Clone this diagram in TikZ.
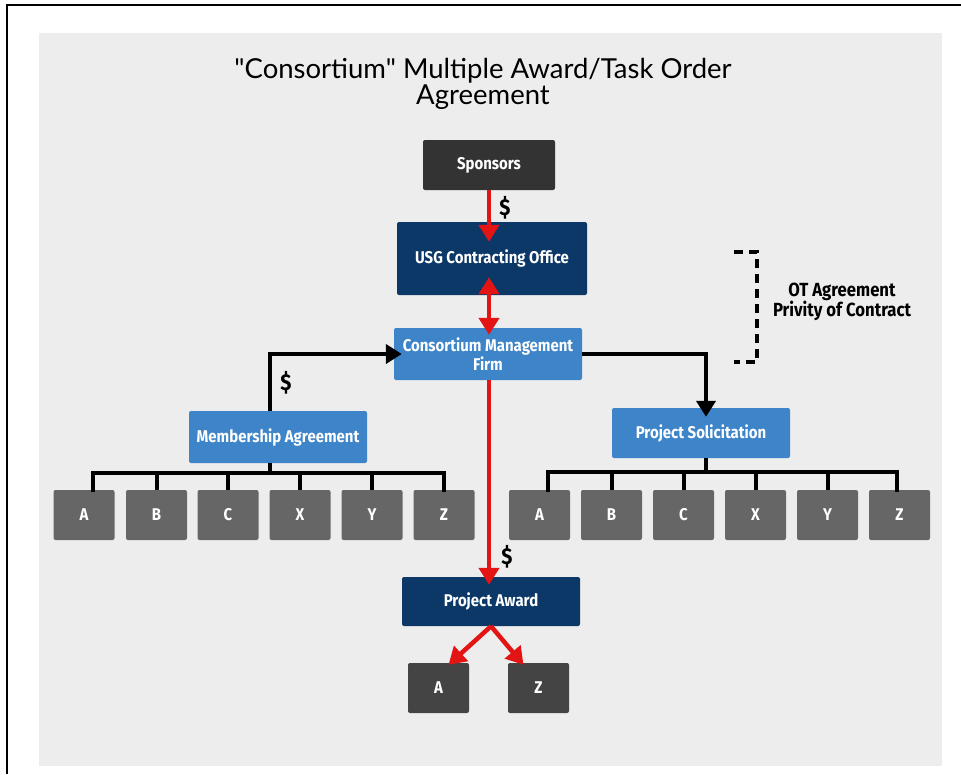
\documentclass[tikz,border=0pt]{standalone}
\usepackage{fontspec}
\usetikzlibrary{arrows.meta}
\newfontfamily\titlefont{Lato}
\newfontfamily\labfont[FakeStretch=0.88]{Fira Sans}
\definecolor{panel}{HTML}{EDEDED}
\definecolor{sponsorgray}{HTML}{333333}
\definecolor{navy}{HTML}{0C3868}
\definecolor{midblue}{HTML}{3D84C8}
\definecolor{membergray}{HTML}{666666}
\definecolor{awardgray}{HTML}{444444}
\definecolor{flowred}{HTML}{E31414}
\tikzset{
  box/.style={rectangle, rounded corners=2pt, text=white, inner sep=0pt,
    font=\labfont\bfseries\fontsize{17}{19}\selectfont, align=center},
  member/.style={box, fill=membergray, minimum width=61, minimum height=50},
  redflow/.style={draw=flowred, line width=4.5, -{Triangle[width=20,length=17]}},
  redboth/.style={draw=flowred, line width=4.5, {Triangle[width=20,length=17]}-{Triangle[width=20,length=17]}},
  blkflow/.style={draw=black, line width=4, -{Triangle[width=19,length=16]}},
  blkline/.style={draw=black, line width=4},
  money/.style={font=\labfont\bfseries\fontsize{23}{24}\selectfont, inner sep=0pt},
}
\begin{document}
\begin{tikzpicture}[x=1pt,y=-1pt]
\useasboundingbox (0,0) rectangle (961,774);
% frame and panel
\fill[panel] (39,33) rectangle (942,766);
\draw[line width=2.5] (6,5) -- (961,5);
\draw[line width=2.5] (7,5) -- (7,774);

% title
\node[font=\titlefont\fontsize{27.5}{26}\selectfont, align=center] (title) at (483,84)
  {"Consortium" Multiple Award/Task Order\\Agreement};

% main chain
\node[box, fill=sponsorgray, minimum width=132, minimum height=50] (spon) at (489,165) {Sponsors};
\node[box, fill=navy, minimum width=190, minimum height=73] (usg) at (492,258.5) {USG Contracting Office};
\node[box, fill=midblue, minimum width=188, minimum height=52] (cmf) at (488,354) {Consortium Management\\Firm};
\node[box, fill=midblue, minimum width=178, minimum height=52] (ma) at (278,437) {Membership Agreement};
\node[box, fill=midblue, minimum width=178, minimum height=50] (ps) at (701,433) {Project Solicitation};
\node[box, fill=navy, minimum width=178, minimum height=49] (pa) at (491,601.5) {Project Award};

% member rows
\foreach \n/\x in {A/84,B/156.5,C/228,X/300,Y/372,Z/444}
  \node[member] (l\n) at (\x,515) {\n};
\foreach \n/\x in {A/539.5,B/611.5,C/683.5,X/755.5,Y/827.5,Z/899.5}
  \node[member] (r\n) at (\x,515) {\n};

% awardees
\node[box, fill=awardgray, minimum width=61, minimum height=50] (aA) at (438.5,688) {A};
\node[box, fill=awardgray, minimum width=61, minimum height=50] (aZ) at (538.5,688) {Z};

% funding and agreement flows along the central spine (tips reach into the boxes)
\coordinate (s1) at (spon.south);
\coordinate (s2) at ([yshift=-20]s1 |- usg.north);
\coordinate (s3) at ([yshift=18]s1 |- usg.south);
\coordinate (s4) at ([yshift=-7]s1 |- cmf.north);
\coordinate (s5) at (s1 |- cmf.south);
\coordinate (s6) at ([yshift=-8]s1 |- pa.north);
\draw[redflow] (s1) -- (s2);
\draw[redboth] (s3) -- (s4);
\draw[redflow] (s5) -- (s6);
\node[money] (d1) at (505,208) {\$};
\node[money] (d2) at (507,557) {\$};
\node[money] (d3) at (286,383) {\$};

\coordinate (maup) at ([xshift=-8]ma.north);
\coordinate (cmfin) at ([xshift=8]cmf.west);
\draw[blkflow] (maup) |- (cmfin);
\coordinate (pstop) at ([xshift=5,yshift=-9]ps.north);
\draw[blkflow] (cmf.east) -| (pstop);

% distribution buses
\coordinate (madn) at ([xshift=-8]ma.south);
\draw[blkline] (madn) -- (madn |- 0,473);
\draw[blkline, line cap=rect] ([xshift=9]lA.north) -- ++(0,-17) -| (lZ.north);
\foreach \n in {B,C,X,Y} \draw[blkline] (l\n.north) -- ++(0,-17);
\coordinate (psdn) at ([xshift=5]ps.south);
\draw[blkline] (psdn) -- (psdn |- 0,472);
\draw[blkline, line cap=rect] ([xshift=8]rA.north) -- ++(0,-18) -| ([xshift=-3]rZ.north);
\foreach \n in {B,C,X,Y} \draw[blkline] (r\n.north) -- ++(0,-18);

% award split
\coordinate (pasplit) at (pa.south);
\draw[redflow] (pasplit) -- ([xshift=10,yshift=-2]aA.north);
\draw[redflow] (pasplit) -- ([xshift=-15,yshift=-2]aZ.north);

% privity bracket
\draw[line width=4, dash pattern=on 9pt off 6pt] (734,252) -- (757,252) -- (757,362) -- (734,362);
\node[font=\labfont\bfseries\fontsize{19}{20}\selectfont, align=center] (ot) at (842,302)
  {OT Agreement\\Privity of Contract};
\end{tikzpicture}
\end{document}
